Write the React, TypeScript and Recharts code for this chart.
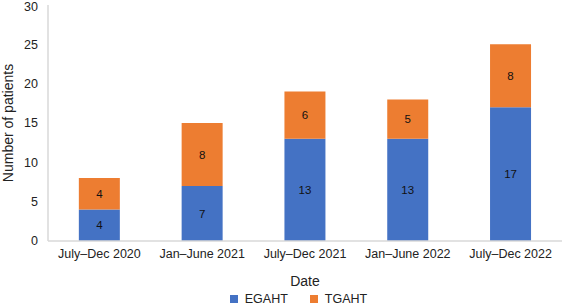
import React from "react";
import { BarChart, Bar, XAxis, YAxis, Legend, LabelList, Label } from "recharts";

const categories = ["July–Dec 2020", "Jan–June 2021", "July–Dec 2021", "Jan–June 2022", "July–Dec 2022"];
const egaht = [4, 7, 13, 13, 17];
const tgaht = [4, 8, 6, 5, 8];
const yTicks = [0, 5, 10, 15, 20, 25, 30];

const data = categories.map((c, i) => ({ name: c, EGAHT: egaht[i], TGAHT: tgaht[i] }));

const BLUE = "#4472C4";
const ORANGE = "#ED7D31";
const FONT = "'Liberation Sans', Arial, sans-serif";
const TEXT = "#222";

const LegendContent = () => (
  <div style={{ display: "flex", justifyContent: "center", fontFamily: FONT, fontSize: 12.5, color: TEXT, marginLeft: 35, paddingTop: 5 }}>
    <div style={{ display: "flex", alignItems: "center", marginRight: 22 }}>
      <span style={{ width: 8, height: 8, background: BLUE, display: "inline-block", marginRight: 7 }} />
      <span>EGAHT</span>
    </div>
    <div style={{ display: "flex", alignItems: "center" }}>
      <span style={{ width: 8, height: 8, background: ORANGE, display: "inline-block", marginRight: 7 }} />
      <span>TGAHT</span>
    </div>
  </div>
);

export default function App() {
  return (
    <div style={{ position: "absolute", left: 0, top: 0, background: "#fff" }}>
      <BarChart
        width={563}
        height={305}
        data={data}
        margin={{ top: 5, right: 1, left: 0, bottom: 0 }}
        barCategoryGap="30%"
        style={{ fontFamily: FONT }}
      >
        <XAxis
          dataKey="name"
          tickLine={false}
          axisLine={{ stroke: "#d9d9d9", strokeWidth: 1.5 }}
          tick={{ fontSize: 12.5, fill: TEXT, fontFamily: FONT }}
          height={46}
          interval={0}
        >
          <Label value="Date" position="insideBottom" offset={1} style={{ fontSize: 14, fill: TEXT, fontFamily: FONT }} />
        </XAxis>
        <YAxis
          domain={[0, 30]}
          ticks={yTicks}
          tickLine={false}
          axisLine={{ stroke: "#d9d9d9", strokeWidth: 1.5 }}
          tick={{ fontSize: 12.5, fill: TEXT, fontFamily: FONT }}
          width={48}
          tickMargin={4}
        >
          <Label value="Number of patients" angle={-90} position="insideLeft" offset={8} style={{ fontSize: 14, fill: TEXT, fontFamily: FONT, textAnchor: "middle" }} />
        </YAxis>
        <Legend verticalAlign="bottom" height={18} content={<LegendContent />} />
        <Bar dataKey="EGAHT" stackId="a" fill={BLUE} isAnimationActive={false}>
          <LabelList dataKey="EGAHT" position="center" style={{ fontSize: 11.5, fill: "#111", fontFamily: FONT }} />
        </Bar>
        <Bar dataKey="TGAHT" stackId="a" fill={ORANGE} isAnimationActive={false}>
          <LabelList dataKey="TGAHT" position="center" style={{ fontSize: 11.5, fill: "#111", fontFamily: FONT }} />
        </Bar>
      </BarChart>
    </div>
  );
}
